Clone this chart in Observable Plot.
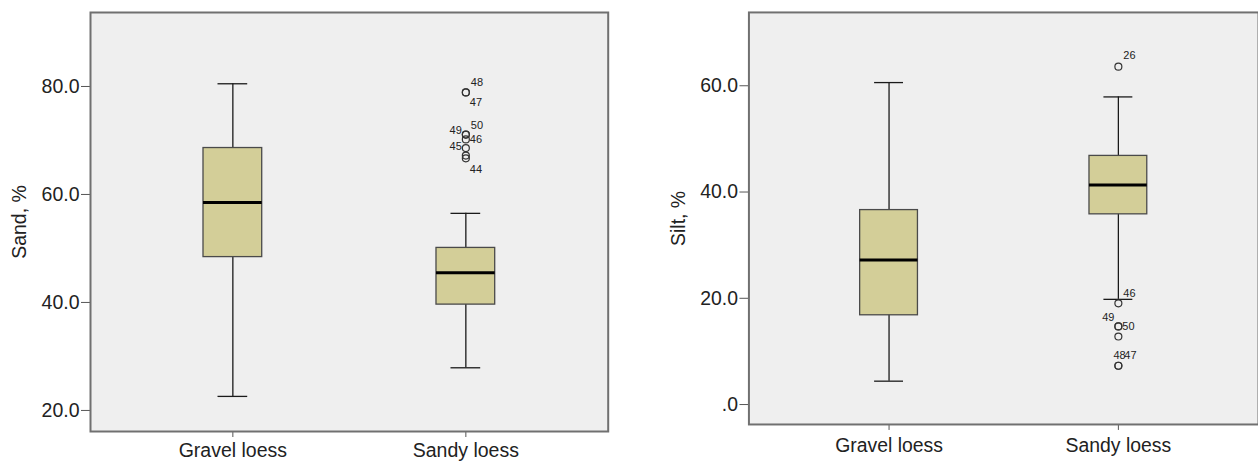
<!DOCTYPE html>
<html><head><meta charset="utf-8">
<script src="https://cdn.jsdelivr.net/npm/d3@7"></script>
<script src="https://cdn.jsdelivr.net/npm/@observablehq/plot@0.6"></script>
<style>
html,body{margin:0;padding:0;background:#fff;overflow:hidden;width:1258px;height:463px}
#wrap{position:relative;width:1258px;height:463px;overflow:hidden}
#left{position:absolute;left:0;top:0}
#right{position:absolute;left:629px;top:0}
</style></head><body><div id="wrap"><div id="left"></div><div id="right"></div></div>
<script>
// ---- Data ----
const categories = ["Gravel loess", "Sandy loess"];

// Sand, %
const sandWhiskerLow  = [22.6, 27.9];
const sandQ1          = [48.4, 39.6];
const sandMedian      = [58.5, 45.5];
const sandQ3          = [68.6, 50.1];
const sandWhiskerHigh = [80.5, 56.5];
const sandOutlierGroup = ["Sandy loess","Sandy loess","Sandy loess","Sandy loess","Sandy loess","Sandy loess","Sandy loess","Sandy loess"];
const sandOutlierValue = [78.9, 78.9, 71.1, 71.1, 70.2, 68.6, 67.2, 66.7];
const sandOutlierLabel = ["48", "47", "50", "49", "46", "45", "", "44"];
const sandTicks = [20, 40, 60, 80];

// Silt, %
const siltWhiskerLow  = [4.4, 19.8];
const siltQ1          = [16.8, 35.8];
const siltMedian      = [27.2, 41.3];
const siltQ3          = [36.6, 46.8];
const siltWhiskerHigh = [60.6, 57.9];
const siltOutlierGroup = ["Sandy loess","Sandy loess","Sandy loess","Sandy loess","Sandy loess","Sandy loess","Sandy loess"];
const siltOutlierValue = [63.6, 19.05, 14.7, 14.7, 12.8, 7.3, 7.3];
const siltOutlierLabel = ["26", "46", "50", "49", "", "48", "47"];
const siltTicks = [0, 20, 40, 60];

// ---- Label placement (style, kept apart from data) ----
const sandLabelOffsets = [[5,-10,"start"],[4,10,"start"],[5,-9,"start"],[-4,-4,"end"],[4,0,"start"],[-4,-2,"end"],[0,0,"start"],[4,11,"start"]];
const siltLabelOffsets = [[5,-11,"start"],[5,-10,"start"],[4,0,"start"],[-4,-9,"end"],[0,0,"start"],[-5,-10,"start"],[6,-10,"start"]];

const FONT = "'Liberation Sans', Arial, Helvetica, sans-serif";
const fmt = d => d === 0 ? ".0" : d.toFixed(1);

function panel(o) {
  const stats = categories.map((c, i) => ({cat: c, lo: o.lo[i], q1: o.q1[i], med: o.med[i], q3: o.q3[i], hi: o.hi[i]}));
  const outliers = o.og.map((c, i) => ({cat: c, value: o.ov[i], label: o.ol[i], off: o.off[i]}));
  const labelMarks = outliers.filter(d => d.label !== "").map(d =>
    Plot.text([d], {x: "cat", y: "value", text: "label", dx: d.off[0], dy: d.off[1], textAnchor: d.off[2], fontSize: 11, fill: "#222"}));
  return Plot.plot({
    width: o.width, height: 463,
    marginTop: 12, marginLeft: o.marginLeft, marginRight: o.marginRight, marginBottom: o.marginBottom,
    style: {fontFamily: FONT, background: "transparent", color: "#222"},
    x: {type: "band", domain: categories, paddingInner: 0.748, paddingOuter: 0.485, round: false, label: null},
    y: {domain: o.domain, label: o.label},
    marks: [
      Plot.frame({fill: "#efefef"}),
      Plot.ruleX(stats, {x: "cat", y1: "lo", y2: "hi", stroke: "#1a1a1a", strokeWidth: 1.3}),
      Plot.tickY(stats, {x: "cat", y: "lo", insetLeft: 14.5, insetRight: 14.5, stroke: "#1a1a1a", strokeWidth: 1.3}),
      Plot.tickY(stats, {x: "cat", y: "hi", insetLeft: 14.5, insetRight: 14.5, stroke: "#1a1a1a", strokeWidth: 1.3}),
      Plot.barY(stats, {x: "cat", y1: "q1", y2: "q3", fill: "#d3ce98", stroke: "#4a4a4a", strokeWidth: 1.3}),
      Plot.tickY(stats, {x: "cat", y: "med", stroke: "#000", strokeWidth: 3}),
      Plot.dot(outliers, {x: "cat", y: "value", r: 3.5, stroke: "#333", fill: "none", strokeWidth: 1.2}),
      ...labelMarks,
      Plot.axisY({ticks: o.ticks, tickFormat: fmt, tickSize: 9, tickPadding: 2, fontSize: 19.5, stroke: "#555",
        label: o.label, labelAnchor: "center", labelOffset: 78, labelArrow: "none"}),
      Plot.axisX({tickSize: 6, tickPadding: o.xPad, fontSize: 19.5, stroke: "#555", label: null}),
      Plot.frame({stroke: "#707070", strokeWidth: 2})
    ]
  });
}

document.getElementById("left").appendChild(panel({
  lo: sandWhiskerLow, q1: sandQ1, med: sandMedian, q3: sandQ3, hi: sandWhiskerHigh,
  og: sandOutlierGroup, ov: sandOutlierValue, ol: sandOutlierLabel, off: sandLabelOffsets,
  ticks: sandTicks, domain: [16.1, 93.7], label: "Sand, %",
  width: 629, marginLeft: 90, marginRight: 21.3, marginBottom: 32, xPad: 6
}));
document.getElementById("right").appendChild(panel({
  lo: siltWhiskerLow, q1: siltQ1, med: siltMedian, q3: siltQ3, hi: siltWhiskerHigh,
  og: siltOutlierGroup, ov: siltOutlierValue, ol: siltOutlierLabel, off: siltLabelOffsets,
  ticks: siltTicks, domain: [-3.75, 73.8], label: "Silt, %",
  width: 632, marginLeft: 120, marginRight: 0, marginBottom: 37, xPad: 8
}));
</script></body></html>
